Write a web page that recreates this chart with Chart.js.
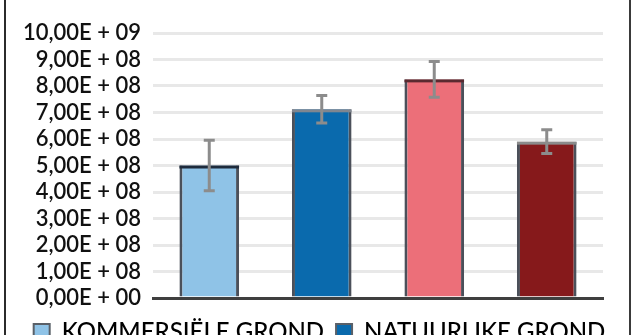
<!DOCTYPE html>
<html>
<head>
<meta charset="utf-8">
<script src="https://cdn.jsdelivr.net/npm/chart.js@4"></script>
<style>
  html, body { margin: 0; padding: 0; background: #fff; overflow: hidden; }
  #wrap { position: relative; width: 639px; height: 335px; overflow: hidden; }
  #frameL { position: absolute; left: 4px; top: 0; width: 2px; height: 335px; background: #2b2b2b; }
  #frameR { position: absolute; left: 629px; top: 0; width: 2px; height: 335px; background: #3a3a3a; }
</style>
</head>
<body>
<div id="wrap">
  <canvas id="chart" width="639" height="354"></canvas>
  <div id="frameL"></div>
  <div id="frameR"></div>
</div>
<script>
// --- data ---
const categories = ['1', '2', '3', '4'];
const values = [5.0e8, 7.12e8, 8.25e8, 5.9e8];
const errors = [0.95e8, 0.52e8, 0.67e8, 0.45e8];
const barColors = ['#8fc3e7', '#0a6aad', '#ec6f79', '#86191b'];
const topBorderColors = ['#1e2b3c', '#7f8690', '#5a2a30', '#8a8a8a'];
const legendNames = ['KOMMERSIËLE GROND', 'NATUURLIKE GROND'];
const tickLabels = ['0,00E + 00', '1,00E + 08', '2,00E + 08', '3,00E + 08', '4,00E + 08',
  '5,00E + 08', '6,00E + 08', '7,00E + 08', '8,00E + 08', '9,00E + 08', '10,00E + 09'];

const FONT = 'Lato';

// error bars drawn from the arrays through the y scale
const errorBars = {
  id: 'errorBars',
  afterDatasetsDraw(chart) {
    const ctx = chart.ctx;
    const y = chart.scales.y;
    const meta = chart.getDatasetMeta(0);
    ctx.save();
    ctx.strokeStyle = '#8c8c8c';
    ctx.lineWidth = 3;
    meta.data.forEach((bar, i) => {
      const hi = y.getPixelForValue(values[i] + errors[i]);
      const lo = y.getPixelForValue(values[i] - errors[i]);
      ctx.beginPath();
      ctx.moveTo(bar.x, hi);
      ctx.lineTo(bar.x, lo);
      ctx.moveTo(bar.x - 5.5, hi);
      ctx.lineTo(bar.x + 5.5, hi);
      ctx.moveTo(bar.x - 5.5, lo);
      ctx.lineTo(bar.x + 5.5, lo);
      ctx.stroke();
    });
    ctx.restore();
  }
};

// darker top edge on each bar
const barTops = {
  id: 'barTops',
  afterDatasetDraw(chart) {
    const ctx = chart.ctx;
    const meta = chart.getDatasetMeta(0);
    ctx.save();
    meta.data.forEach((bar, i) => {
      ctx.fillStyle = topBorderColors[i];
      ctx.fillRect(bar.x - bar.width / 2, bar.y, bar.width, 3);
    });
    ctx.restore();
  }
};

new Chart(document.getElementById('chart'), {
  type: 'bar',
  data: {
    labels: categories,
    datasets: [{
      data: values,
      backgroundColor: barColors,
      borderColor: '#4b505a',
      borderWidth: { left: 3, right: 3, top: 0, bottom: 0 },
      borderSkipped: false,
      barPercentage: 0.53,
      categoryPercentage: 1
    }]
  },
  options: {
    responsive: false,
    animation: false,
    layout: { padding: { left: 0, right: 0, top: 33, bottom: 0 } },
    plugins: {
      tooltip: { enabled: false },
      legend: {
        position: 'bottom',
        labels: {
          color: '#111',
          font: { family: FONT, size: 24, weight: '500' },
          boxWidth: 16,
          boxHeight: 16,
          padding: 12,
          generateLabels: () => legendNames.map((name, i) => ({
            text: name,
            fillStyle: barColors[i],
            strokeStyle: '#5a6068',
            lineWidth: 2
          }))
        }
      }
    },
    scales: {
      x: {
        afterFit: (s) => { s.height = 10; },
        ticks: { display: false },
        grid: { display: false, drawTicks: false },
        border: { color: '#3f3f3f', width: 3 }
      },
      y: {
        min: 0,
        max: 1e9,
        afterFit: (s) => { s.width = 153; },
        ticks: {
          stepSize: 1e8,
          autoSkip: false,
          padding: 12,
          color: '#111',
          font: { family: FONT, size: 22, weight: '600' },
          callback: (v, i) => tickLabels[i]
        },
        grid: { color: '#e8e8e8', lineWidth: 3, drawTicks: false },
        border: { display: false }
      },
      yRight: {
        position: 'right',
        min: 0,
        max: 1,
        afterFit: (s) => { s.width = 36; },
        ticks: { display: false },
        grid: { display: false, drawTicks: false },
        border: { display: false }
      }
    }
  },
  plugins: [barTops, errorBars]
});
</script>
</body>
</html>
